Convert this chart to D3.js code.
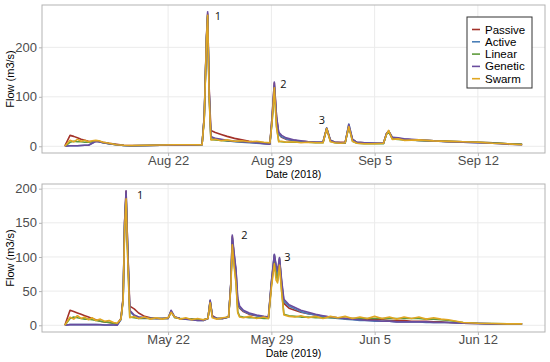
<!DOCTYPE html>
<html>
<head>
<meta charset="utf-8">
<script src="https://cdn.jsdelivr.net/npm/d3@7"></script>
<style>
  html, body { margin: 0; padding: 0; background: #fff; }
  svg { display: block; font-family: "Liberation Sans", Arial, sans-serif; }
</style>
</head>
<body>
<svg id="chart" width="550" height="362"></svg>
<script>
// ---------------- DATA ----------------
const seriesNames = ["Passive", "Active", "Linear", "Genetic", "Swarm"];
const seriesColors = ["#a3322a", "#4a7fb8", "#5e9b3c", "#6a4c9e", "#e0a722"];

// 2018 panel: time in days since start date
const start2018 = "2018-08-15";
const days2018 = [0, 0.35, 0.6, 0.85, 1.1, 1.35, 1.6, 1.85, 2.1, 2.3,
  2.6, 3.0, 3.5, 4.0, 4.5, 5.5, 6.5, 7.5, 8.5, 9.3,
  9.45, 9.6, 9.68, 9.78, 9.9, 10.2, 10.6, 11.0, 11.5, 12.0,
  12.5, 13.0, 13.5, 13.9, 14.05, 14.2, 14.35, 14.5, 14.7, 15.0,
  15.5, 16.0, 16.5, 17.0, 17.5, 17.75, 18.0, 18.3, 18.7, 19.0,
  19.25, 19.5, 19.8, 20.3, 21.0, 21.6, 21.8, 21.95, 22.2, 22.6,
  23.0, 24.0, 25.0, 26.0, 27.0, 28.0, 29.0, 30.0, 31.0];
const passive2018 = [1, 22, 20, 17, 14, 12, 10, 9, 10, 10,
  8, 6, 4, 2, 1.5, 1.5, 2, 2, 2, 3,
  60, 220, 268, 120, 32, 28, 24, 20, 16, 13,
  10, 8, 6, 5, 60, 128, 60, 25, 18, 14,
  12, 10, 9, 8, 8, 36, 12, 8, 8, 8,
  40, 14, 8, 7, 6, 6, 25, 30, 16, 15,
  14, 12, 11, 10, 9, 8, 7, 5, 4];
const active2018 = [0, 1, 1, 1, 1.5, 2, 2, 6, 10, 9,
  7, 5, 3, 1.5, 1, 1.5, 2, 2, 2, 3,
  60, 215, 262, 110, 18, 15, 13, 11, 9, 8,
  7, 6, 5, 4, 55, 122, 55, 24, 19, 15,
  12, 10, 9, 8, 8, 37, 12, 8, 7, 7,
  45, 14, 8, 7, 6, 6, 25, 31, 18, 16,
  14, 12, 11, 9, 8, 7, 6, 5, 3];
const linear2018 = [0, 8, 10, 9, 9, 8, 8, 9, 11, 10,
  7, 5, 3, 1.5, 1, 1.5, 2, 2, 2, 3,
  58, 218, 265, 105, 14, 13, 12, 11, 10, 9,
  9, 8, 7, 6, 50, 118, 40, 10, 9, 8,
  8, 8, 8, 7, 7, 36, 10, 7, 6, 6,
  40, 10, 6, 5, 5, 5, 24, 30, 15, 14,
  13, 12, 11, 10, 9, 8, 7, 5, 4];
const genetic2018 = [0, 1, 1, 1, 1.5, 2, 2, 6, 10, 9,
  7, 5, 3, 1.5, 1, 1.5, 2, 2, 2, 3,
  62, 222, 272, 115, 20, 16, 14, 12, 10, 9,
  8, 7, 5, 4, 60, 130, 60, 28, 22, 17,
  13, 11, 9, 8, 8, 37, 12, 8, 7, 7,
  44, 14, 8, 7, 6, 6, 26, 31, 18, 17,
  15, 13, 11, 9, 8, 7, 6, 4, 3];
const swarm2018 = [0, 12, 9, 14, 10, 12, 9, 11, 12, 11,
  8, 6, 3, 2, 1.5, 2, 2.5, 3, 3, 3,
  55, 215, 265, 100, 13, 14, 11, 13, 10, 11,
  9, 10, 8, 7, 50, 118, 38, 9, 10, 8,
  9, 7, 8, 7, 7, 36, 9, 7, 6, 7,
  40, 10, 6, 5, 5, 6, 24, 32, 14, 15,
  12, 13, 11, 10, 9, 8, 6, 5, 3];
const ticks2018 = ["2018-08-22", "2018-08-29", "2018-09-05", "2018-09-12"];
const tickLabels2018 = ["Aug 22", "Aug 29", "Sep 5", "Sep 12"];
const yTicks2018 = [0, 100, 200];
const peakDays2018 = [9.68, 14.2, 17.75];
const peakVals2018 = [268, 128, 36];
const peakNames2018 = ["1", "2", "3"];

// 2019 panel
const start2019 = "2019-05-15";
const days2019 = [0, 0.35, 0.6, 0.85, 1.1, 1.35, 1.6, 1.85, 2.1, 2.4,
  2.7, 3.0, 3.3, 3.55, 3.8, 3.95, 4.05, 4.15, 4.25, 4.4,
  4.7, 5.0, 5.4, 5.8, 6.2, 6.6, 7.0, 7.2, 7.45, 7.8,
  8.2, 8.6, 9.0, 9.4, 9.7, 9.85, 10.0, 10.3, 10.7, 11.1,
  11.25, 11.35, 11.48, 11.6, 11.72, 11.85, 12.1, 12.5, 13.0, 13.5,
  13.8, 14.0, 14.2, 14.32, 14.42, 14.55, 14.7, 14.85, 15.2, 15.6,
  16.0, 16.5, 17.0, 17.5, 18.0, 18.5, 19.0, 19.5, 20.0, 20.5,
  21.0, 21.5, 22.0, 22.5, 23.0, 23.5, 24.0, 24.5, 25.0, 25.5,
  26.0, 27.0, 28.0, 29.0, 30.0, 31.0];
const passive2019 = [0, 22, 20, 18, 16, 14, 12, 10, 8, 6,
  5, 4, 3, 2, 10, 40, 150, 196, 120, 28,
  24, 18, 13, 11, 10, 10, 11, 20, 12, 10,
  9, 9, 8, 8, 10, 35, 14, 10, 10, 12,
  60, 130, 100, 78, 30, 25, 20, 16, 14, 12,
  11, 60, 102, 85, 72, 97, 60, 32, 25, 22,
  19, 17, 15, 13, 12, 11, 10, 10, 9, 8,
  8, 8, 7, 7, 7, 6, 6, 6, 5, 5,
  4, 3, 2.5, 2, 2, 2];
const active2019 = [0, 1, 1, 1, 1, 1, 1, 1, 1, 1,
  0.5, 0.5, 0.3, 0.2, 8, 38, 150, 192, 118, 20,
  14, 12, 11, 10, 10, 10, 10, 21, 12, 10,
  9, 8, 7, 7, 10, 36, 13, 10, 10, 12,
  60, 128, 102, 80, 35, 26, 21, 17, 14, 12,
  11, 62, 103, 86, 75, 98, 62, 35, 28, 24,
  20, 17, 15, 13, 11, 10, 9, 8, 7, 7,
  6, 6, 6, 5, 5, 5, 5, 4, 4, 4,
  4, 3, 2.5, 2, 2, 2];
const linear2019 = [0, 10, 12, 11, 10, 9, 9, 8, 7, 6,
  5, 4, 3, 2, 9, 38, 145, 190, 110, 12,
  11, 10, 10, 10, 10, 10, 10, 20, 11, 10,
  9, 9, 8, 8, 10, 35, 12, 10, 10, 12,
  58, 120, 90, 65, 20, 13, 12, 11, 11, 10,
  10, 58, 95, 75, 65, 90, 50, 16, 14, 13,
  12, 12, 11, 11, 11, 11, 10, 10, 10, 10,
  10, 10, 10, 10, 10, 10, 10, 9, 9, 8,
  7, 4, 3, 2.5, 2, 2];
const genetic2019 = [0, 1, 1, 1, 1, 1, 1, 1, 1, 0.8,
  0.5, 0.5, 0.3, 0.2, 9, 40, 152, 197, 120, 22,
  15, 12, 11, 10, 10, 10, 10, 22, 12, 10,
  9, 8, 7, 7, 10, 37, 13, 10, 10, 12,
  62, 132, 105, 82, 40, 28, 22, 18, 15, 13,
  12, 64, 104, 88, 80, 99, 65, 38, 30, 26,
  22, 19, 16, 14, 12, 11, 10, 9, 8, 7,
  7, 6, 6, 5, 5, 5, 5, 5, 4, 4,
  4, 3, 2.5, 2, 2, 2];
const swarm2019 = [0, 12, 9, 14, 10, 12, 8, 11, 7, 9,
  6, 7, 4, 3, 9, 36, 140, 185, 105, 11,
  13, 10, 12, 9, 11, 9, 11, 19, 12, 9,
  11, 8, 10, 8, 10, 33, 11, 9, 11, 12,
  55, 118, 85, 62, 18, 12, 11, 13, 10, 12,
  10, 55, 90, 66, 62, 88, 48, 15, 13, 12,
  14, 11, 13, 10, 13, 11, 13, 10, 12, 10,
  13, 10, 12, 9, 12, 10, 12, 9, 11, 9,
  8, 4, 3, 2.5, 2, 2];
const ticks2019 = ["2019-05-22", "2019-05-29", "2019-06-05", "2019-06-12"];
const tickLabels2019 = ["May 22", "May 29", "Jun 5", "Jun 12"];
const yTicks2019 = [0, 50, 100, 150, 200];
const peakDays2019 = [4.15, 11.35, 14.2];
const peakVals2019 = [196, 130, 102];
const peakNames2019 = ["1", "2", "3"];

// ---------------- DRAW ----------------
const svg = d3.select("#chart");
const DAY = 86400000;

function drawPanel(cfg) {
  const t0 = new Date(cfg.start + "T00:00:00");
  const toDate = d => new Date(t0.getTime() + d * DAY);
  const allSeries = cfg.values;
  const dMin = d3.min(cfg.days), dMax = d3.max(cfg.days);
  const span = dMax - dMin;
  const x = d3.scaleTime()
    .domain([toDate(dMin - span * 0.05), toDate(dMax + span * 0.05)])
    .range([cfg.left, cfg.right]);
  const vMax = d3.max(allSeries, s => d3.max(s));
  const vMin = 0;
  const vSpan = vMax - vMin;
  const y = d3.scaleLinear()
    .domain([vMin - vSpan * 0.05, vMax + vSpan * 0.05])
    .range([cfg.bottom, cfg.top]);

  const g = svg.append("g");
  const tickDates = cfg.ticks.map(s => new Date(s + "T00:00:00"));

  // gridlines
  g.append("g").selectAll("line.hg").data(cfg.yTicks).join("line")
    .attr("x1", cfg.left).attr("x2", cfg.right)
    .attr("y1", d => y(d)).attr("y2", d => y(d))
    .attr("stroke", "#ebebeb").attr("stroke-width", 1);
  g.append("g").selectAll("line.vg").data(tickDates).join("line")
    .attr("x1", d => x(d)).attr("x2", d => x(d))
    .attr("y1", cfg.top).attr("y2", cfg.bottom)
    .attr("stroke", "#ebebeb").attr("stroke-width", 1);

  // lines
  const line = d3.line()
    .x((v, i) => x(toDate(cfg.days[i])))
    .y(v => y(v));
  allSeries.forEach((vals, k) => {
    g.append("path")
      .datum(vals)
      .attr("d", line)
      .attr("fill", "none")
      .attr("stroke", seriesColors[k])
      .attr("stroke-width", 1.6)
      .attr("stroke-linejoin", "round");
  });

  // border
  g.append("rect")
    .attr("x", cfg.left).attr("y", cfg.top)
    .attr("width", cfg.right - cfg.left).attr("height", cfg.bottom - cfg.top)
    .attr("fill", "none").attr("stroke", "#b3b3b3").attr("stroke-width", 1);

  // axes
  const xAxis = d3.axisBottom(x).tickValues(tickDates)
    .tickFormat((d, i) => cfg.tickLabels[i]).tickSize(3).tickPadding(0);
  const xa = g.append("g").attr("transform", `translate(0,${cfg.bottom})`).call(xAxis);
  xa.select(".domain").remove();
  xa.selectAll(".tick line").attr("stroke", "#b3b3b3");
  xa.selectAll(".tick text").attr("fill", "#4d4d4d").style("font-size", "13px")
    .style("font-family", "Liberation Sans, Arial, sans-serif");

  const yAxis = d3.axisLeft(y).tickValues(cfg.yTicks).tickSize(3).tickPadding(2);
  const ya = g.append("g").attr("transform", `translate(${cfg.left},0)`).call(yAxis);
  ya.select(".domain").remove();
  ya.selectAll(".tick line").attr("stroke", "#b3b3b3");
  ya.selectAll(".tick text").attr("fill", "#4d4d4d").style("font-size", "13px")
    .style("font-family", "Liberation Sans, Arial, sans-serif");

  // titles
  g.append("text")
    .attr("x", (cfg.left + cfg.right) / 2).attr("y", cfg.bottom + 25)
    .attr("text-anchor", "middle").attr("fill", "#000")
    .style("font-size", "10.5px").text(cfg.xTitle);
  g.append("text")
    .attr("transform", `translate(14,${(cfg.top + cfg.bottom) / 2}) rotate(-90)`)
    .attr("text-anchor", "middle").attr("fill", "#000")
    .style("font-size", "11px").text("Flow (m3/s)");

  // peak labels
  cfg.peakDays.forEach((pd, i) => {
    g.append("text")
      .attr("x", x(toDate(pd)) + cfg.labelDx[i])
      .attr("y", y(cfg.peakVals[i]) + cfg.labelDy[i])
      .attr("fill", "#111")
      .style("font-family", "'Open Sans', 'DejaVu Sans', sans-serif")
      .style("font-size", "11px")
      .text(cfg.peakNames[i]);
  });
}

drawPanel({
  start: start2018, days: days2018,
  values: [passive2018, active2018, linear2018, genetic2018, swarm2018],
  ticks: ticks2018, tickLabels: tickLabels2018, yTicks: yTicks2018,
  left: 42, right: 545, top: 5, bottom: 153,
  xTitle: "Date (2018)",
  peakDays: peakDays2018, peakVals: peakVals2018, peakNames: peakNames2018,
  labelDx: [7, 6, -8], labelDy: [6, 5, -4]
});
drawPanel({
  start: start2019, days: days2019,
  values: [passive2019, active2019, linear2019, genetic2019, swarm2019],
  ticks: ticks2019, tickLabels: tickLabels2019, yTicks: yTicks2019,
  left: 42, right: 545, top: 184, bottom: 332,
  xTitle: "Date (2019)",
  peakDays: peakDays2019, peakVals: peakVals2019, peakNames: peakNames2019,
  labelDx: [11, 9, 10], labelDy: [8, 3, 5]
});

// legend
const lg = svg.append("g").attr("transform", "translate(467,17)");
lg.append("rect").attr("x", 0).attr("y", 0).attr("width", 65).attr("height", 71)
  .attr("fill", "#fff").attr("stroke", "#333").attr("stroke-width", 1);
seriesNames.forEach((n, i) => {
  const yy = 16.5 + i * 12.3;
  lg.append("line").attr("x1", 5).attr("x2", 13).attr("y1", yy - 4).attr("y2", yy - 4)
    .attr("stroke", seriesColors[i]).attr("stroke-width", 1.6);
  lg.append("text").attr("x", 18).attr("y", yy).attr("fill", "#000")
    .style("font-size", "11.5px").text(n);
});
</script>
</body>
</html>
